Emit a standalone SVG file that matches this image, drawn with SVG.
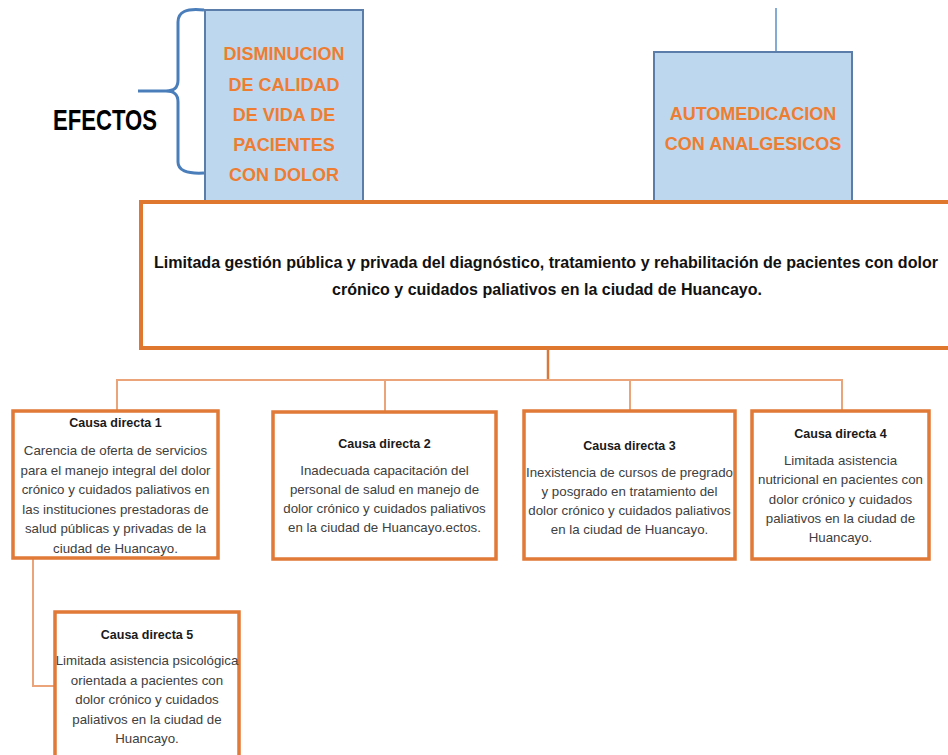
<svg xmlns="http://www.w3.org/2000/svg" width="948" height="755" viewBox="0 0 948 755">
<style>
.eff{fill:#BDD7EE;stroke:#5A7DAA;stroke-width:2}
.effT{font-family:"Liberation Sans",Arial,sans-serif;font-weight:bold;font-size:18px;fill:#ED7D31;text-anchor:middle}
.box{fill:#fff;stroke:#E07A36;stroke-width:3.5}
.title{font-family:"Liberation Sans",Arial,sans-serif;font-weight:bold;font-size:12.5px;fill:#1a1a1a;text-anchor:middle}
.body{font-family:"Liberation Sans",Arial,sans-serif;font-size:13.3px;fill:#404040;text-anchor:middle}
.main{font-family:"Liberation Sans",Arial,sans-serif;font-weight:bold;font-size:17px;fill:#111;text-anchor:middle}
.con{fill:none;stroke:#EBA47A;stroke-width:2}
</style>
<g id="efectos-label">
<path d="M204,10 C186,8 178,12 178,22 L178,80 C178,88 174,91 166,91 L138,91 M166,91 C174,91 178,94 178,102 L178,162 C178,170 186,174 204,173" fill="none" stroke="#4A7EBB" stroke-width="3"/>
<text x="105" y="130" font-family="'Liberation Sans',Arial,sans-serif" font-weight="bold" font-size="30" fill="#000" text-anchor="middle" textLength="104" lengthAdjust="spacingAndGlyphs">EFECTOS</text>
</g>
<g id="efecto1">
<rect class="eff" x="205" y="10" width="158" height="195"/>
<text class="effT" x="284" y="59.5">DISMINUCION</text>
<text class="effT" x="284" y="90.5">DE CALIDAD</text>
<text class="effT" x="284" y="120.5">DE VIDA DE</text>
<text class="effT" x="284" y="150.5">PACIENTES</text>
<text class="effT" x="284" y="180.5">CON DOLOR</text>
</g>
<g id="efecto2">
<line x1="776" y1="8" x2="776" y2="52" stroke="#5B8FC8" stroke-width="1.5"/>
<rect class="eff" x="654" y="52" width="198" height="153"/>
<text class="effT" x="753" y="120">AUTOMEDICACION</text>
<text class="effT" x="753" y="149.5">CON ANALGESICOS</text>
</g>
<g id="problema">
<rect x="141" y="202" width="830" height="146" fill="#fff" stroke="#E0772F" stroke-width="4"/>
<text class="main" x="546" y="268" textLength="784" lengthAdjust="spacingAndGlyphs">Limitada gestión pública y privada del diagnóstico, tratamiento y rehabilitación de pacientes con dolor</text>
<text class="main" x="547" y="295" textLength="430" lengthAdjust="spacingAndGlyphs">crónico y cuidados paliativos en la ciudad de Huancayo.</text>
</g>
<g id="connectors">
<line x1="548" y1="348" x2="548" y2="380" stroke="#D9783A" stroke-width="2.5"/>
<line class="con" x1="116" y1="380" x2="843" y2="380"/>
<line class="con" x1="117" y1="380" x2="117" y2="411"/>
<line class="con" x1="385" y1="380" x2="385" y2="412"/>
<line class="con" x1="630" y1="380" x2="630" y2="411"/>
<line class="con" x1="842" y1="380" x2="842" y2="411"/>
<polyline class="con" points="33,559 33,686 55,686"/>
</g>
<g id="causa1">
<rect class="box" x="13" y="411" width="205" height="147"/>
<text class="title" x="115.5" y="427">Causa directa 1</text>
<text class="body" x="115.5" y="455">Carencia de oferta de servicios</text>
<text class="body" x="115.5" y="474.5">para el manejo integral del dolor</text>
<text class="body" x="115.5" y="494">crónico y cuidados paliativos en</text>
<text class="body" x="115.5" y="513.5">las instituciones prestadoras de</text>
<text class="body" x="115.5" y="533">salud públicas y privadas de la</text>
<text class="body" x="115.5" y="552.5">ciudad de Huancayo.</text>
</g>
<g id="causa2">
<rect class="box" x="273" y="412" width="223" height="147"/>
<text class="title" x="384.5" y="448">Causa directa 2</text>
<text class="body" x="384.5" y="475">Inadecuada capacitación del</text>
<text class="body" x="384.5" y="494">personal de salud en manejo de</text>
<text class="body" x="384.5" y="513">dolor crónico y cuidados paliativos</text>
<text class="body" x="384.5" y="532">en la ciudad de Huancayo.ectos.</text>
</g>
<g id="causa3">
<rect class="box" x="524" y="411" width="211" height="148"/>
<text class="title" x="629.5" y="450">Causa directa 3</text>
<text class="body" x="629.5" y="477">Inexistencia de cursos de pregrado</text>
<text class="body" x="629.5" y="496">y posgrado en tratamiento del</text>
<text class="body" x="629.5" y="515">dolor crónico y cuidados paliativos</text>
<text class="body" x="629.5" y="534">en la ciudad de Huancayo.</text>
</g>
<g id="causa4">
<rect class="box" x="752" y="411" width="177" height="148"/>
<text class="title" x="840.5" y="438">Causa directa 4</text>
<text class="body" x="840.5" y="465">Limitada asistencia</text>
<text class="body" x="840.5" y="484">nutricional en pacientes con</text>
<text class="body" x="840.5" y="503.5">dolor crónico y cuidados</text>
<text class="body" x="840.5" y="523">paliativos en la ciudad de</text>
<text class="body" x="840.5" y="542">Huancayo.</text>
</g>
<g id="causa5">
<rect class="box" x="55" y="612" width="184" height="160"/>
<text class="title" x="147" y="639">Causa directa 5</text>
<text class="body" x="147" y="665">Limitada asistencia psicológica</text>
<text class="body" x="147" y="684.5">orientada a pacientes con</text>
<text class="body" x="147" y="704">dolor crónico y cuidados</text>
<text class="body" x="147" y="723.5">paliativos en la ciudad de</text>
<text class="body" x="147" y="743">Huancayo.</text>
</g>
</svg>
